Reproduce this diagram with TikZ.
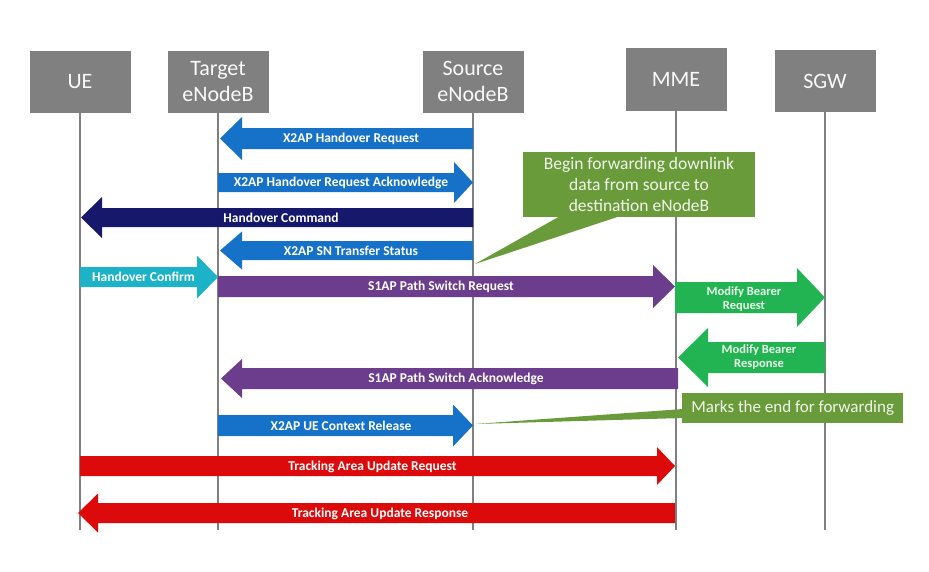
\documentclass[tikz,border=0pt]{standalone}
\usepackage{fontspec}
\setmainfont{Carlito}
\usetikzlibrary{calc}
\definecolor{hdrgray}{HTML}{808080}
\definecolor{xblue}{HTML}{1672C9}
\definecolor{navy}{HTML}{15186B}
\definecolor{cyanc}{HTML}{1CB3C9}
\definecolor{purp}{HTML}{6B3D8C}
\definecolor{mgreen}{HTML}{22B452}
\definecolor{olivec}{HTML}{6A9B3A}
\definecolor{redc}{HTML}{DC0A0A}
\newcommand\fatarrow[8]{% #1 name, #2 style, #3 x from, #4 x to, #5 y, #6 body half, #7 head half, #8 head len
  \pgfmathsetmacro\faDir{(#4>#3)?1:-1}%
  \pgfmathsetmacro\faB{#4-\faDir*#8}%
  \coordinate (#1-from) at ({#3},{#5});
  \coordinate (#1-to) at ({#4},{#5});
  \fill[#2] ({#3},{#5-#6}) -- ({\faB},{#5-#6}) -- ({\faB},{#5-#7}) -- (#1-to)
     -- ({\faB},{#5+#7}) -- ({\faB},{#5+#6}) -- ({#3},{#5+#6}) -- cycle;
}
\begin{document}
\begin{tikzpicture}[x=1pt,y=-1pt,
  hdr/.style={fill=hdrgray, text=white!95!gray, minimum width=101pt, minimum height=62pt,
     inner sep=0pt, align=center, font=\fontsize{22}{26}\selectfont},
  life/.style={draw=hdrgray, line width=1.8pt},
  msg/.style={text=white, inner sep=0pt, align=center, font=\bfseries\fontsize{13.5}{15}\selectfont},
  msgsmall/.style={text=white!92!green, inner sep=0pt, align=center, font=\bfseries\fontsize{12.5}{14.5}\selectfont},
  callout/.style={fill=olivec, text=white!90!olivec, inner sep=0pt, align=center},
]
\useasboundingbox (0,0) rectangle (929,571);
\fill[white] (0,0) rectangle (929,571);

% header boxes
\node[hdr] (ue)  at (80,81.5)  {UE};
\node[hdr] (tgt) at (218,81.5) {Target\\eNodeB};
\node[hdr] (src) at (473,81.5) {Source\\eNodeB};
\node[hdr, minimum height=63pt] (mme) at (676,79.5) {MME};
\node[hdr] (sgw) at (825,81) {SGW};

% lifelines
\coordinate (bot) at (0,530);
\foreach \n in {ue,tgt,src,mme,sgw}{
  \draw[life] (\n.south) -- (\n.south |- bot);
}

% callout A
\node[callout, minimum width=232pt, minimum height=65pt,
      font=\fontsize{17.5}{21}\selectfont] (cA) at (639,184.5)
      {Begin forwarding downlink\\data from source to\\destination eNodeB};
\coordinate (cAtip) at (475,264);
\fill[olivec] ($(cA.south west)+(37,-1)$) -- ($(cA.south west)+(97,-1)$) -- (cAtip) -- cycle;

% messages
\fatarrow{m1}{xblue}{473}{220}{138.5}{10.5}{21.5}{22}
\node[msg] (l1) at (351,139) {X2AP Handover Request};

\fatarrow{m2}{xblue}{218}{473}{182.5}{9.5}{20.5}{19}
\node[msg] (l2) at (341,183) {X2AP Handover Request Acknowledge};

\fatarrow{m3}{navy}{473}{81}{217.5}{9.5}{20.5}{21}
\node[msg] (l3) at (281,218) {Handover Command};

\fatarrow{m4}{xblue}{473}{220}{250.5}{9.5}{19}{22}
\node[msg] (l4) at (351,251) {X2AP SN Transfer Status};

\fatarrow{m6}{purp}{218}{675}{286.5}{10.5}{21.5}{22}
\node[msg] (l6) at (441,287) {S1AP Path Switch Request};

\fatarrow{m5}{cyanc}{80}{218}{277}{10}{21.5}{21}
\node[msg] (l5) at (143.5,277) {Handover Confirm};

\fatarrow{m7}{mgreen}{675}{825}{297.5}{15.5}{29.5}{28}
\node[msgsmall] (l7) at (744,299) {Modify Bearer\\Request};

\fatarrow{m8}{mgreen}{825}{678}{357.5}{15.5}{29.5}{30}
\node[msgsmall] (l8) at (759,357) {Modify Bearer\\Response};

\fatarrow{m9}{purp}{678}{221}{378.5}{10.5}{19.5}{21}
\node[msg] (l9) at (456,379) {S1AP Path Switch Acknowledge};

\fatarrow{m10}{xblue}{218}{473}{425.5}{10.5}{21}{20}
\node[msg] (l10) at (341,426) {X2AP UE Context Release};

\fatarrow{m11}{redc}{80}{675}{466}{10}{19}{18}
\node[msg] (l11) at (372.5,466.5) {Tracking Area Update Request};

\fatarrow{m12}{redc}{675}{78}{513}{10}{19.5}{20}
\node[msg] (l12) at (380,513.5) {Tracking Area Update Response};

% callout B (over lifelines)
\node[callout, minimum width=221pt, minimum height=30pt, anchor=west,
      font=\fontsize{17}{20}\selectfont] (cB) at (682,408) {Marks the end for forwarding};
\coordinate (cBtip) at (475,424);
\fill[olivec] ($(cB.west)+(1,1)$) -- ($(cB.west)+(1,10)$) -- (cBtip) -- cycle;
\end{tikzpicture}
\end{document}
